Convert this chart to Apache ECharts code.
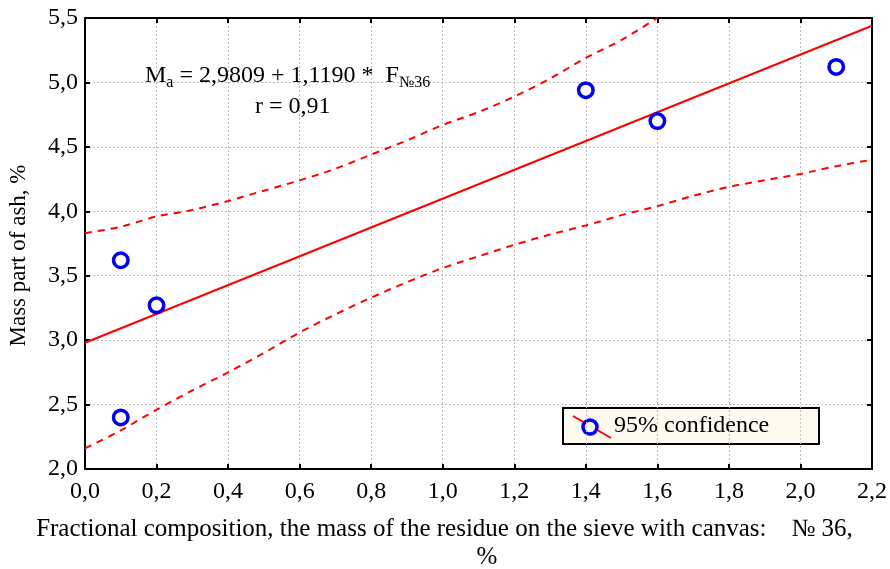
<!DOCTYPE html>
<html>
<head>
<meta charset="utf-8">
<script src="https://cdn.jsdelivr.net/npm/echarts@6/dist/echarts.min.js"></script>
<style>
  html, body { margin: 0; padding: 0; background: #fff; }
  #chart { width: 890px; height: 569px; }
</style>
</head>
<body>
<div id="chart"></div>
<script>
// measured points: fraction on sieve №36 (%) vs mass part of ash (%)
const pointsX = [0.1, 0.2, 0.1, 1.4, 1.6, 2.1]
const pointsY = [3.62, 3.27, 2.40, 4.94, 4.70, 5.12]

// regression line end points
const fitX = [0, 2.2]
const fitY = [2.98, 5.44]

// 95% confidence band
const upperX = [0, 0.1, 0.2, 0.3, 0.4, 0.5, 0.6, 0.7, 0.8, 0.9, 1.0, 1.1, 1.2, 1.3, 1.4, 1.5, 1.6]
const upperY = [3.83, 3.88, 3.96, 4.01, 4.08, 4.16, 4.24, 4.33, 4.44, 4.55, 4.67, 4.77, 4.89, 5.03, 5.19, 5.33, 5.5]
const lowerX = [0, 0.1, 0.2, 0.3, 0.4, 0.5, 0.6, 0.7, 0.8, 0.9, 1.0, 1.1, 1.2, 1.3, 1.4, 1.5, 1.6, 1.7, 1.8, 1.9, 2.0, 2.1, 2.2]
const lowerY = [2.16, 2.30, 2.46, 2.61, 2.75, 2.90, 3.06, 3.20, 3.33, 3.45, 3.56, 3.65, 3.74, 3.82, 3.89, 3.97, 4.04, 4.12, 4.19, 4.24, 4.29, 4.35, 4.40]

const xTicks = ['0,0', '0,2', '0,4', '0,6', '0,8', '1,0', '1,2', '1,4', '1,6', '1,8', '2,0', '2,2']
const yTicks = ['2,0', '2,5', '3,0', '3,5', '4,0', '4,5', '5,0', '5,5']

const font = '"Liberation Serif", "Times New Roman", serif'
const zip = (xs, ys) => xs.map((x, i) => [x, ys[i]])

const chart = echarts.init(document.getElementById('chart'))

const baseX = {
  type: 'value', min: 0, max: 2.2, interval: 0.2,
  axisLine: { onZero: false, lineStyle: { color: '#000', width: 2 } },
  axisTick: { inside: true, length: 5, lineStyle: { color: '#000', width: 2 } },
  splitLine: { show: false }
}
const baseY = {
  type: 'value', min: 2, max: 5.5, interval: 0.5,
  axisLine: { onZero: false, lineStyle: { color: '#000', width: 2 } },
  axisTick: { inside: true, length: 5, lineStyle: { color: '#000', width: 2 } },
  splitLine: { show: false }
}

chart.setOption({
  animation: false,
  grid: { left: 85, right: 18, top: 18, bottom: 100, outerBoundsMode: 'none', containLabel: false },
  xAxis: [
    Object.assign({}, baseX, {
      position: 'bottom',
      splitLine: { show: true, lineStyle: { color: '#bdbdbd', type: [2, 2], width: 1 } },
      axisLabel: {
        color: '#000', fontFamily: font, fontSize: 24, margin: 11,
        formatter: (v) => xTicks[Math.round(v / 0.2)]
      },
      name: 'Fractional composition, the mass of the residue on the sieve with canvas:    № 36,',
      nameLocation: 'middle',
      nameGap: 45,
      nameMoveOverlap: false,
      nameTextStyle: {
        color: '#000', fontFamily: font, fontSize: 25, lineHeight: 30,
        verticalAlign: 'top', padding: [0, 68, 0, 0]
      }
    }),
    Object.assign({}, baseX, { position: 'top', axisLabel: { show: false } })
  ],
  yAxis: [
    Object.assign({}, baseY, {
      position: 'left',
      splitLine: { show: true, lineStyle: { color: '#bdbdbd', type: [2, 2], width: 1 } },
      axisLabel: {
        color: '#000', fontFamily: font, fontSize: 24, margin: 7,
        formatter: (v) => yTicks[Math.round((v - 2) / 0.5)]
      },
      name: 'Mass part of ash, %',
      nameLocation: 'middle',
      nameGap: 55,
      nameMoveOverlap: false,
      nameTextStyle: { color: '#000', fontFamily: font, fontSize: 23, padding: [0, 24, 0, 0] }
    }),
    Object.assign({}, baseY, { position: 'right', axisLabel: { show: false } })
  ],
  series: [
    {
      type: 'line', data: zip(fitX, fitY), symbol: 'none',
      lineStyle: { color: '#ff0000', width: 2 }, z: 3
    },
    {
      type: 'line', data: zip(upperX, upperY), symbol: 'none', smooth: 0.3,
      lineStyle: { color: '#ff0000', width: 2, type: [7, 6] }, z: 3
    },
    {
      type: 'line', data: zip(lowerX, lowerY), symbol: 'none', smooth: 0.3,
      lineStyle: { color: '#ff0000', width: 2, type: [7, 6] }, z: 3
    },
    {
      type: 'scatter', data: zip(pointsX, pointsY), symbol: 'circle', symbolSize: 14.5,
      itemStyle: { color: '#fff', borderColor: '#0000ee', borderWidth: 3.5, opacity: 1 }, z: 4
    }
  ],
  graphic: [
    {
      type: 'text', left: 145, top: 61, z: 10,
      style: {
        text: '{t|M}{s|a}{t| = 2,9809 + 1,1190 *  F}{s|№36}',
        fill: '#000',
        rich: {
          t: { fontFamily: font, fontSize: 24, lineHeight: 30, fill: '#000' },
          s: { fontFamily: font, fontSize: 16, lineHeight: 30, padding: [14, 0, 0, 0], fill: '#000' }
        }
      }
    },
    {
      type: 'text', left: 255, top: 95, z: 10,
      style: { text: 'r = 0,91', fill: '#000', font: '24px ' + font }
    },
    {
      type: 'text', x: 487, y: 557, z: 10,
      style: { text: '%', fill: '#000', font: '25px ' + font, align: 'center', verticalAlign: 'middle' }
    },
    {
      type: 'group', left: 562, top: 407, z: 10,
      children: [
        { type: 'rect', shape: { x: 0, y: 0, width: 256, height: 36 },
          style: { fill: '#fffaf0', stroke: '#000', lineWidth: 2 } },
        { type: 'line', shape: { x1: 10, y1: 8, x2: 48, y2: 30 },
          style: { stroke: '#ff0000', lineWidth: 2 } },
        { type: 'circle', shape: { cx: 27, cy: 19, r: 7 },
          style: { fill: '#fffaf0', stroke: '#0000ee', lineWidth: 3.5 } },
        { type: 'text', x: 51, y: 6,
          style: { text: '95% confidence', fill: '#000', font: '24px ' + font } }
      ]
    }
  ]
})
</script>
</body>
</html>
